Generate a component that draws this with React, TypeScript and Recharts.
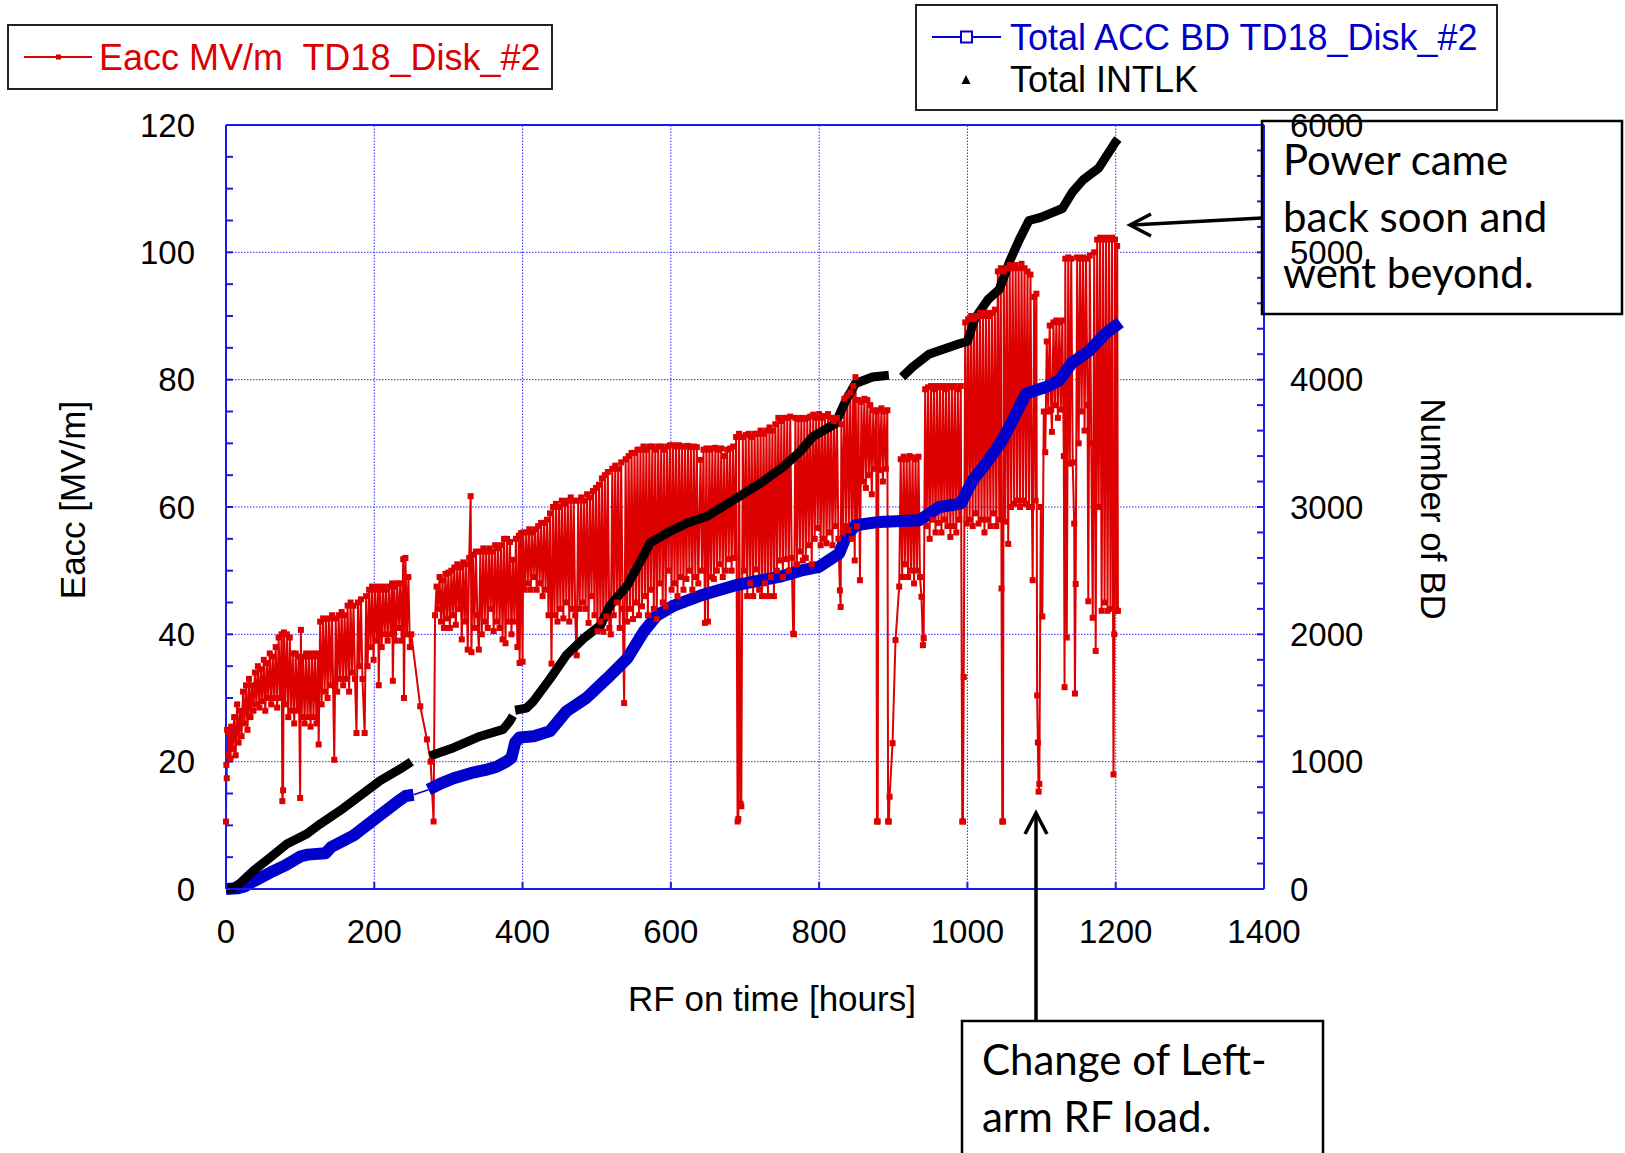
import React from 'react';
import { ComposedChart, Line, XAxis, YAxis, ReferenceLine } from 'recharts';

const FONT = '"Liberation Sans", Arial, Helvetica, sans-serif';
const NOTE_FONT = 'Lato, "Open Sans", sans-serif';
const EACC_RED = '#dd0000';
const BD_BLUE = '#0000cc';
const FRAME = '#1a1aee';
const GRID = '#2b2bff';

// axes
const hourTicks = [0, 200, 400, 600, 800, 1000, 1200, 1400];
const hourGrid = [200, 400, 600, 800, 1000, 1200];
const eaccTicks = [0, 5, 10, 15, 20, 25, 30, 35, 40, 45, 50, 55, 60, 65, 70, 75, 80, 85, 90, 95, 100, 105, 110, 115, 120];
const eaccGrid = [20, 40, 60, 80, 100];
const bdTicks = [
  0, 200, 400, 600, 800, 1000, 1200, 1400, 1600, 1800, 2000, 2200, 2400, 2600, 2800, 3000,
  3200, 3400, 3600, 3800, 4000, 4200, 4400, 4600, 4800, 5000, 5200, 5400, 5600, 5800, 6000,
];

// Eacc MV/m TD18_Disk_#2  [RF hours, MV/m]
const eaccRamp = [
  [0, 10.6], [0.5, 19.5], [1, 17.4], [1.5, 25], [3, 21], [4, 24.5], [6, 20.5], [7, 25.5], [9, 22], [11, 27],
  [13, 21], [15, 29], [17, 23], [19, 28], [21, 24], [23, 31], [25, 26], [27, 32], [29, 25], [31, 33],
  [33, 27], [35, 32], [37, 28], [39, 34], [41, 29], [43, 35], [45, 28.5], [47, 34.5], [49, 29.5], [51, 36],
  [53, 28], [55, 35.5], [57, 30], [59, 37], [61, 29], [63, 36.5], [65, 30], [67, 38], [69, 28.5], [71, 39.5],
  [73, 30], [75, 40], [76, 13.8], [77, 15.5], [78, 40.3], [80, 29], [82, 40], [84, 27], [86, 39.5], [88, 28],
  [90, 37], [92, 26], [94, 37], [96, 28], [98, 36.5], [100, 14.3], [101, 40.7], [102, 27], [104, 36.5], [106, 26],
  [108, 37], [110, 27], [112, 36.5], [114, 25.5], [116, 37], [118, 27], [120, 36.5], [122, 26], [124, 37], [125, 22.7],
  [127, 42], [129, 29], [131, 42.5], [133, 31], [135, 42.4], [137, 30], [139, 42.5], [141, 32], [143, 43], [146, 20.3],
  [148, 42.5], [150, 31], [152, 43], [154, 33], [156, 43.5], [158, 32], [160, 43], [162, 33], [164, 44.5], [166, 31],
  [168, 45], [170, 34], [172, 44.5], [174, 33], [176, 24.5], [178, 45], [180, 35], [182, 45.5], [184, 33], [187, 24.5],
  [189, 46], [191, 35], [193, 47], [195, 38], [197, 47.5], [199, 36], [201, 47], [203, 39], [205, 47.5], [206, 32],
  [208, 47], [210, 38], [212, 47.5], [214, 40], [216, 47], [218, 39], [220, 47.5], [222, 40], [224, 48], [225, 32.7],
  [227, 47.5], [229, 39], [231, 48], [233, 41], [235, 48], [237, 39], [239, 51.8], [240, 30], [242, 52], [244, 40],
  [246, 49], [248, 38], [250, 40], [262, 28.7], [271, 23.5], [276, 20], [280, 10.6], [282, 43], [284, 47.5],
];

const eaccPlateau = [
  [286, 44], [288, 49], [290, 42], [292, 48.5], [294, 41], [296, 49.5], [298, 42.5], [300, 49.7], [302, 41], [304, 50],
  [306, 43], [308, 50.5], [310, 41.5], [312, 51], [314, 44], [316, 50.5], [318, 39.2], [320, 51.3], [322, 42], [324, 51],
  [326, 37.6], [328, 52], [330, 61.7], [331, 37.2], [333, 52.5], [335, 41], [337, 53], [339, 43], [341, 37.6], [343, 53],
  [345, 40], [347, 53.5], [349, 42], [351, 53], [353, 41], [355, 53.5], [357, 44], [359, 53], [361, 40.5], [363, 54],
  [365, 42], [367, 53.5], [369, 41], [371, 54], [373, 39.2], [375, 55], [377, 38.6], [379, 55], [381, 42], [383, 54.5],
  [385, 40], [387, 51.7], [389, 42], [391, 55], [393, 38], [395, 55.5], [396, 35.5], [398, 55.9],
];

const eaccClimb = [
  [400, 35.7], [401, 56], [403, 47], [405, 56], [407, 48], [409, 56.5], [411, 47], [413, 56], [415, 49], [417, 56.5],
  [419, 47], [421, 57], [423, 48], [425, 57.5], [427, 46], [429, 57.5], [431, 47], [433, 58], [435, 43], [437, 59],
  [439, 35.4], [441, 60], [443, 43], [445, 60.5], [447, 42], [449, 60], [451, 44], [453, 61], [455, 42.5], [457, 60.5],
  [459, 45], [461, 61], [463, 42], [465, 61.5], [467, 44], [469, 61], [471, 43], [473, 36.7], [475, 61], [477, 44],
  [479, 61.5], [481, 45], [483, 61], [485, 44], [487, 62], [489, 41.8], [491, 61.5], [493, 46], [495, 62.5], [497, 43],
  [499, 63], [501, 40.5], [503, 63.5], [505, 42], [507, 64.5], [509, 40.4], [511, 65], [513, 42.8], [515, 65.5], [517, 41],
  [519, 40], [521, 66], [523, 43], [525, 66.5], [527, 45], [529, 66], [531, 41], [533, 67], [535, 44], [537, 29.2],
  [539, 67.5], [541, 42], [543, 68], [545, 44], [547, 68.5], [549, 42.4], [551, 68.5], [553, 45], [555, 69], [557, 43],
  [559, 69], [561, 44.4], [563, 69.5], [565, 46], [567, 69], [569, 43], [571, 69.5], [573, 47], [575, 69.5], [577, 44],
  [579, 69], [581, 42.4], [583, 69.5], [585, 48], [587, 69.5], [589, 45], [591, 69], [593, 44.4], [595, 69.5], [597, 50],
  [599, 69.7],
];

const eaccHigh = [
  [601, 47], [603, 69.7], [605, 48], [607, 69.5], [609, 46], [611, 69.7], [613, 49], [615, 69.5], [617, 47], [619, 69.5],
  [621, 48.7], [623, 69.6], [625, 50], [627, 69.4], [629, 47], [631, 69.5], [633, 49], [635, 69.4], [637, 48], [640, 67.4],
  [642, 50], [644, 69], [646, 41.8], [648, 69.2], [650, 42], [652, 69], [654, 49], [656, 69.2], [658, 48.7], [660, 69.3],
  [662, 50], [664, 69], [666, 51], [668, 69.2], [670, 49], [672, 68], [674, 50], [676, 69], [678, 51.8], [680, 69.2],
  [682, 50], [684, 69.5], [686, 52], [688, 71], [690, 10.6], [691, 11], [692, 71.5], [694, 13.4], [695, 13], [697, 71],
  [699, 50], [701, 71.3], [703, 46], [705, 71.5], [707, 48], [709, 71], [711, 46], [713, 71.5], [715, 50.2], [717, 71.5],
  [719, 47], [721, 72], [723, 46], [725, 71.5], [727, 48], [729, 72], [731, 46], [733, 72.5], [735, 49], [737, 72],
  [739, 46], [741, 73], [743, 50], [745, 74], [747, 51.6], [749, 73.5], [751, 49], [753, 74], [755, 51.8], [757, 74],
  [759, 50], [761, 74.2], [763, 52], [765, 40.1], [766, 40], [768, 74], [770, 51], [772, 73.8], [774, 53], [776, 74],
  [778, 51.6], [780, 73.8], [782, 52], [784, 74], [786, 54], [788, 74.2], [790, 51], [792, 74.5], [794, 55], [796, 74],
  [798, 56.7], [800, 74.6], [802, 54], [804, 74], [806, 55], [808, 74.3], [810, 54.3], [812, 74.6], [814, 56], [816, 74],
  [818, 54], [820, 73.5], [822, 57], [824, 74], [826, 55], [828, 46.9], [829, 44.3], [830, 73], [832, 56], [834, 77],
  [836, 57], [838, 77.5], [840, 56.4], [842, 78], [844, 55], [846, 79], [848, 51.6], [849, 80.4], [851, 57],
];

const eaccDips = [
  [853, 76.8], [855, 48.5], [857, 76.5], [859, 64], [861, 77], [863, 63], [865, 76.8], [867, 65], [869, 76], [871, 62],
  [873, 75.2], [875, 66], [877, 75], [878, 10.6], [879, 10.6], [880, 75.2], [882, 65.8], [884, 75.5], [886, 64], [888, 75],
  [890, 66], [892, 75.2], [893, 10.6], [894, 10.6], [895, 14.5], [899, 22.9], [903, 39.1], [908, 47.5], [910, 67.5], [912, 49],
  [914, 67.9], [916, 51], [918, 67.5], [920, 49], [922, 68], [924, 50], [926, 67.8], [928, 48], [930, 67.5], [932, 50],
  [934, 67.9], [936, 49], [938, 45.9], [940, 38.3], [941, 39.4], [943, 78.5], [945, 57], [947, 78.8], [949, 55], [951, 79],
  [953, 58], [955, 78.5], [957, 56], [959, 79], [961, 57.5], [963, 78.8], [965, 56], [967, 79], [969, 58], [971, 78.5],
  [973, 57], [975, 79], [977, 55.3], [979, 78.8], [981, 57], [983, 79], [985, 56], [987, 78.5], [989, 58], [991, 79],
  [993, 10.6], [994, 10.6], [995, 33.3], [997, 89], [999, 57.4],
];

const eaccFinal = [
  [1001, 89.5], [1003, 58], [1005, 90], [1007, 57], [1009, 89.5], [1011, 59], [1013, 90], [1015, 57.4], [1017, 90.5], [1019, 58],
  [1021, 90], [1023, 56], [1025, 90.5], [1027, 58], [1029, 90], [1031, 57], [1033, 90.5], [1035, 59], [1037, 91], [1039, 57],
  [1041, 97], [1043, 58], [1045, 97.5], [1046, 47.2], [1047, 10.6], [1048, 10.6], [1049, 97], [1051, 57.7], [1053, 97.5], [1055, 54.2],
  [1057, 98], [1059, 60], [1061, 97.5], [1063, 60.5], [1065, 98], [1067, 61], [1069, 97.5], [1071, 60], [1073, 98.2], [1075, 61],
  [1077, 97.5], [1079, 60.5], [1081, 97], [1083, 60], [1085, 96.5], [1087, 60], [1088, 48.5], [1090, 93], [1092, 61], [1093, 93.5],
  [1094, 30.4], [1095, 23], [1096, 15.3], [1097, 16.5], [1099, 60], [1101, 42.8], [1103, 75], [1105, 68.6], [1107, 86], [1109, 75],
  [1111, 88.5], [1113, 75.3], [1114, 71.8], [1116, 89], [1118, 76], [1120, 89.3], [1122, 74], [1124, 89], [1126, 75.3], [1128, 89.3],
  [1130, 68], [1131, 31.7], [1132, 99], [1134, 39.5], [1136, 99.2], [1138, 66.8], [1140, 99], [1142, 67], [1144, 57.4], [1145, 30.7],
  [1146, 47.9], [1148, 99.2], [1150, 70], [1152, 99], [1154, 75], [1156, 99.2], [1158, 72], [1160, 99], [1162, 76], [1163, 45.2],
  [1165, 99.5], [1167, 70], [1169, 42.6], [1171, 100], [1173, 37.4], [1175, 102], [1177, 60], [1179, 102.3], [1181, 43.7], [1183, 102],
  [1185, 45], [1187, 102.3], [1189, 43.7], [1191, 102], [1193, 44], [1195, 102.3], [1197, 18], [1198, 40], [1199, 102], [1201, 43.7],
  [1202, 101], [1203, 43.7],
];

// Total ACC BD TD18_Disk_#2  [RF hours, count]; null = no data
const accBd = [
  [0, 0], [15, 5], [25, 20], [37, 60], [60, 130], [80, 185], [100, 255], [110, 270], [134, 280], [142, 330],
  [172, 420], [200, 545], [230, 680], [242, 730], [253, 740], [263, null], [273, 780], [290, 830], [307, 870], [330, 910],
  [350, 935], [365, 960], [378, 1000], [385, 1030], [390, 1150], [396, 1190], [415, 1200], [437, 1240], [459, 1395], [486, 1500],
  [514, 1654], [541, 1810], [563, 2018], [581, 2148], [604, 2226], [640, 2304], [685, 2382], [730, 2434], [746, 2451], [775, 2500],
  [800, 2530], [827, 2635], [836, 2765], [849, 2857], [881, 2883], [935, 2896], [962, 3000], [991, 3027], [1007, 3210], [1025, 3341],
  [1047, 3524], [1061, 3681], [1079, 3890], [1106, 3942], [1124, 3995], [1141, 4133], [1163, 4220], [1186, 4361], [1206, 4450],
];
// thin connector across the 253-273 h stop
const accBdBridge = [[253, 740], [273, 780]];

// Total INTLK  [RF hours, count]; null = no data
const totalIntlk = [
  [0, 0], [10, 10], [20, 50], [37, 144], [60, 250], [82, 353], [109, 433], [127, 511], [154, 616], [181, 734],
  [208, 851], [235, 943], [250, 1000], [262, null], [275, 1045], [307, 1110], [343, 1200], [374, 1254], [383, 1320], [387, 1360],
  [388, null], [390, 1404], [405, 1420], [414, 1470], [437, 1650], [459, 1836], [482, 1966], [505, 2070], [518, 2226], [541, 2382],
  [563, 2616], [572, 2719], [595, 2797], [622, 2875], [649, 2927], [685, 3057], [721, 3187], [752, 3317], [775, 3440], [791, 3550],
  [822, 3655], [836, 3838], [849, 3970], [872, 4021], [894, 4034], [903, null], [912, 4021], [926, 4100], [948, 4200], [989, 4282],
  [1000, 4300], [1010, 4480], [1028, 4630], [1043, 4709], [1057, 4930], [1070, 5100], [1083, 5250], [1099, 5275], [1128, 5344], [1142, 5476],
  [1156, 5569], [1177, 5661], [1199, 5860], [1203, 5890],
];

const toRows = (pairs: (number | null)[][]) => pairs.map(([h, v]) => ({ h, v }));
const eaccData = toRows([...eaccRamp, ...eaccPlateau, ...eaccClimb, ...eaccHigh, ...eaccDips, ...eaccFinal]);
const accBdData = toRows(accBd);
const bridgeData = toRows(accBdBridge);
const intlkData = toRows(totalIntlk);

const frameLine = { stroke: FRAME, strokeWidth: 2 };

const RedSquare = (p: any) => {
  if (p.cx == null || p.cy == null) return <g key={`e${p.index}`} />;
  return <rect key={`e${p.index}`} x={p.cx - 3} y={p.cy - 3} width={6} height={6} fill={EACC_RED} />;
};

export default function App() {
  return (
    <div
      style={{
        position: 'absolute',
        left: 0,
        top: 0,
        width: 1625,
        height: 1153,
        background: '#fff',
        overflow: 'hidden',
        fontFamily: FONT,
      }}
    >
      <ComposedChart width={1625} height={1153} margin={{ top: 124, right: 281, bottom: 204, left: 146 }}>
        <XAxis
          xAxisId="top"
          orientation="top"
          type="number"
          dataKey="h"
          domain={[0, 1400]}
          ticks={hourTicks}
          height={1}
          tick={false}
          tickSize={-7}
          axisLine={frameLine}
          tickLine={frameLine}
        />
        <XAxis
          type="number"
          dataKey="h"
          domain={[0, 1400]}
          ticks={hourTicks}
          interval={0}
          height={60}
          tickSize={-7}
          tickMargin={38}
          axisLine={frameLine}
          tickLine={frameLine}
          tick={{ fill: '#000', fontSize: 33, fontFamily: FONT }}
        />
        <YAxis
          yAxisId="left"
          type="number"
          domain={[0, 120]}
          ticks={eaccTicks}
          interval={0}
          width={80}
          tickSize={-7}
          tickMargin={38}
          axisLine={frameLine}
          tickLine={frameLine}
          tickFormatter={(v: number) => (v % 20 === 0 ? String(v) : '')}
          tick={{ fill: '#000', fontSize: 33, fontFamily: FONT }}
        />
        <YAxis
          yAxisId="right"
          orientation="right"
          type="number"
          domain={[0, 6000]}
          ticks={bdTicks}
          interval={0}
          width={80}
          tickSize={-7}
          tickMargin={33}
          axisLine={frameLine}
          tickLine={frameLine}
          tickFormatter={(v: number) => (v % 1000 === 0 ? String(v) : '')}
          tick={{ fill: '#000', fontSize: 33, fontFamily: FONT }}
        />
        {eaccGrid.map((v) => (
          <ReferenceLine key={`gy${v}`} yAxisId="left" y={v} stroke={GRID} strokeDasharray="1.5 1.5" strokeWidth={1} />
        ))}
        {hourGrid.map((v) => (
          <ReferenceLine key={`gx${v}`} yAxisId="left" x={v} stroke={GRID} strokeDasharray="1.5 1.5" strokeWidth={1} />
        ))}
        <Line
          yAxisId="left"
          data={eaccData}
          dataKey="v"
          type="linear"
          stroke={EACC_RED}
          strokeWidth={2}
          dot={RedSquare}
          activeDot={false}
          isAnimationActive={false}
        />
        <Line
          yAxisId="right"
          data={bridgeData}
          dataKey="v"
          type="linear"
          stroke={BD_BLUE}
          strokeWidth={1.5}
          dot={false}
          activeDot={false}
          isAnimationActive={false}
        />
        <Line
          yAxisId="right"
          data={accBdData}
          dataKey="v"
          type="linear"
          stroke={BD_BLUE}
          strokeWidth={12}
          strokeLinejoin="round"
          dot={false}
          activeDot={false}
          isAnimationActive={false}
        />
        <Line
          yAxisId="right"
          data={intlkData}
          dataKey="v"
          type="linear"
          stroke="#000"
          strokeWidth={9}
          strokeLinejoin="round"
          dot={false}
          activeDot={false}
          isAnimationActive={false}
        />
      </ComposedChart>

      <svg
        width={1625}
        height={1153}
        style={{ position: 'absolute', left: 0, top: 0, pointerEvents: 'none' }}
      >
        {/* axis titles */}
        <text x={772} y={1011} textAnchor="middle" fontSize={35} fontFamily={FONT} fill="#000">
          RF on time [hours]
        </text>
        <text transform="translate(85,500) rotate(-90)" textAnchor="middle" fontSize={35} fontFamily={FONT} fill="#000">
          Eacc [MV/m]
        </text>
        <text transform="translate(1421,509) rotate(90)" textAnchor="middle" fontSize={35} fontFamily={FONT} fill="#000">
          Number of BD
        </text>

        {/* legend, left axis */}
        <rect x={8} y={25} width={544} height={64} fill="#fff" stroke="#222" strokeWidth={2} />
        <line x1={24} y1={57} x2={92} y2={57} stroke={EACC_RED} strokeWidth={2} />
        <rect x={56} y={54.5} width={5} height={5} fill={EACC_RED} />
        <text x={99} y={70} fontSize={36} fontFamily={FONT} fill={EACC_RED} style={{ whiteSpace: 'pre' }}>
          {'Eacc MV/m  TD18_Disk_#2'}
        </text>

        {/* legend, right axis */}
        <rect x={916} y={5} width={581} height={105} fill="#fff" stroke="#222" strokeWidth={2} />
        <line x1={932} y1={37} x2={1001} y2={37} stroke={BD_BLUE} strokeWidth={2} />
        <rect x={961} y={31.5} width={11} height={11} fill="#fff" stroke={BD_BLUE} strokeWidth={2} />
        <text x={1010} y={50} fontSize={36} fontFamily={FONT} fill={BD_BLUE}>
          Total ACC BD TD18_Disk_#2
        </text>
        <path d="M966 75 L970.5 84 L961.5 84 Z" fill="#000" />
        <text x={1010} y={92} fontSize={36} fontFamily={FONT} fill="#000">
          Total INTLK
        </text>

        {/* annotation: upper right */}
        <rect x={1262} y={121} width={360} height={193} fill="none" stroke="#000" strokeWidth={2.5} />
        <text x={1283} y={175} fontSize={42} fontFamily={NOTE_FONT} fill="#000">Power came</text>
        <text x={1283} y={232} fontSize={42} fontFamily={NOTE_FONT} fill="#000">back soon and</text>
        <text x={1283} y={288} fontSize={42} fontFamily={NOTE_FONT} fill="#000">went beyond.</text>
        <line x1={1262} y1={218} x2={1132} y2={225} stroke="#000" strokeWidth={3.5} />
        <polyline points="1151,214 1130,225 1151,236" fill="none" stroke="#000" strokeWidth={3.5} />

        {/* annotation: bottom */}
        <rect x={962} y={1021} width={361} height={180} fill="none" stroke="#000" strokeWidth={2.5} />
        <text x={982} y={1075} fontSize={42} fontFamily={NOTE_FONT} fill="#000">Change of Left-</text>
        <text x={982} y={1132} fontSize={42} fontFamily={NOTE_FONT} fill="#000">arm RF load.</text>
        <line x1={1036} y1={1021} x2={1036} y2={816} stroke="#000" strokeWidth={3.5} />
        <polyline points="1025,834 1036,813 1047,834" fill="none" stroke="#000" strokeWidth={3.5} />
      </svg>
    </div>
  );
}
